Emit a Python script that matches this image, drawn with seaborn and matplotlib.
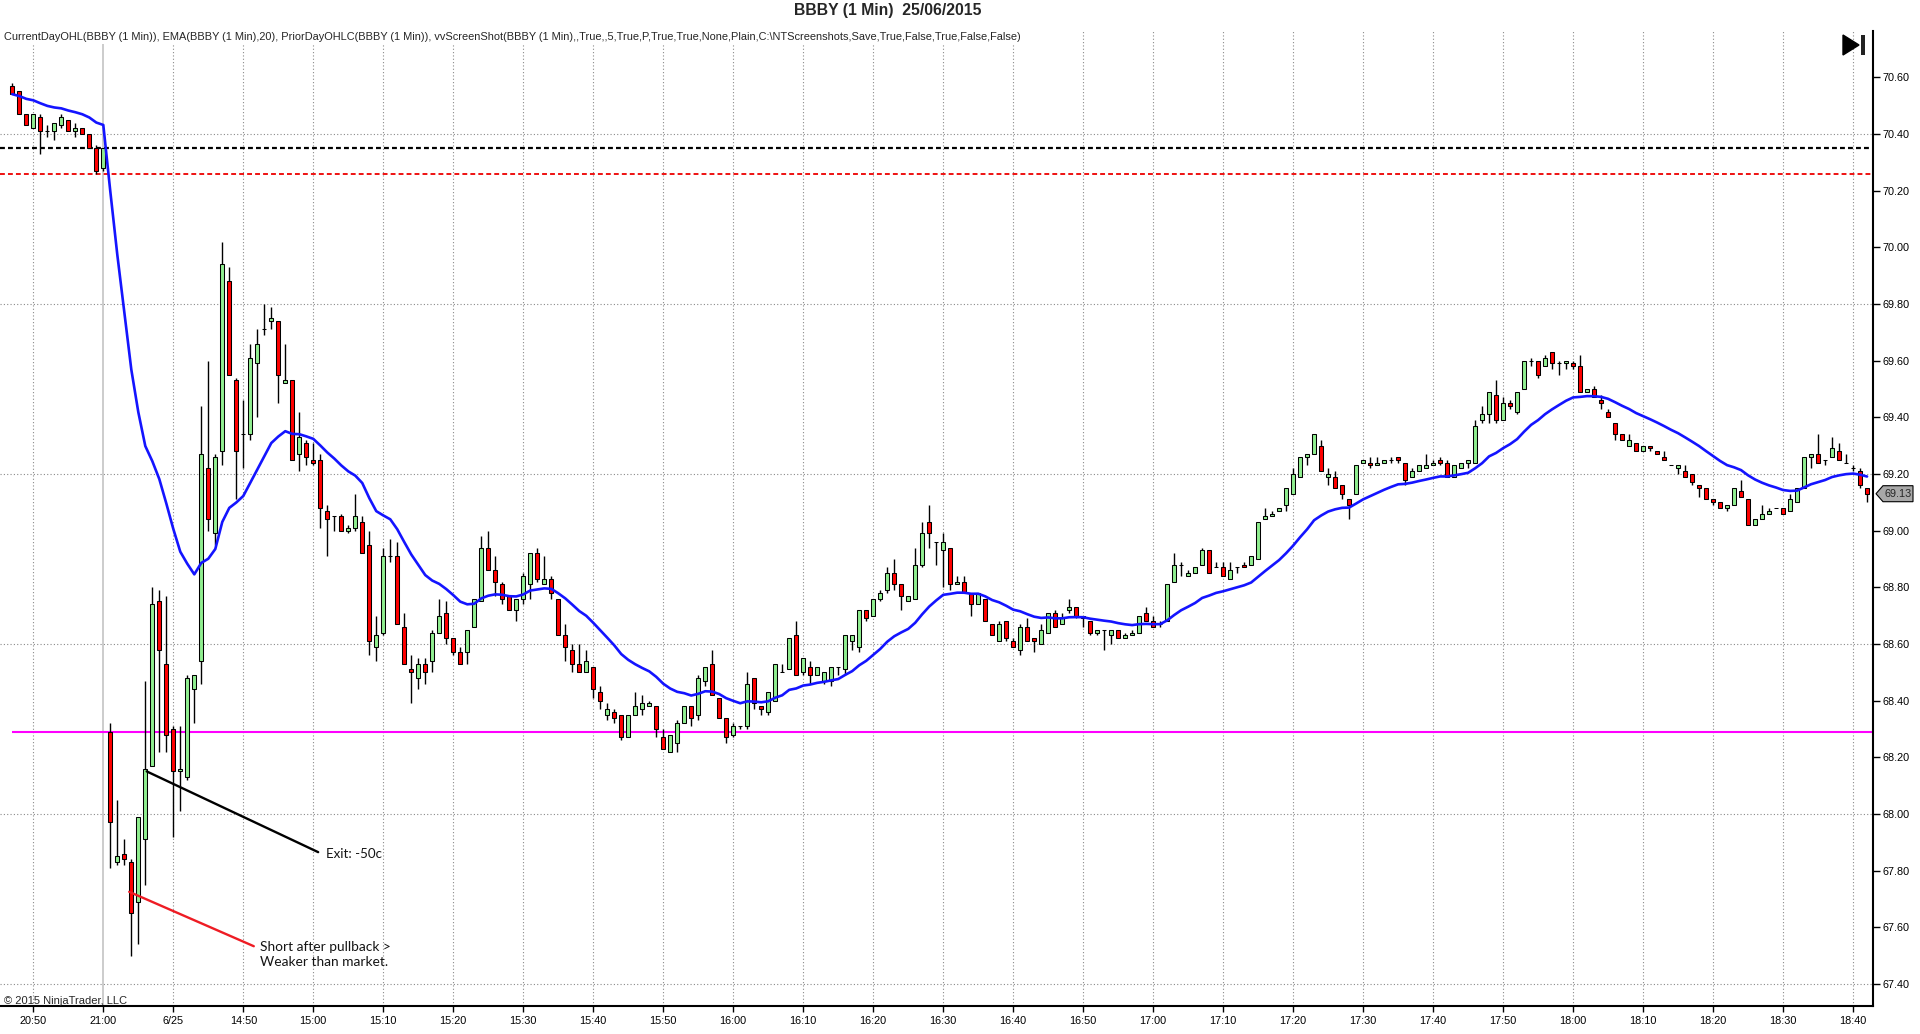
import matplotlib
matplotlib.use("Agg")
import matplotlib.pyplot as plt
from matplotlib.patches import Polygon
from matplotlib.transforms import blended_transform_factory
import numpy as np
import pandas as pd
import seaborn as sns

# 1 minute bars: end of prior session (20:47-21:00) then 25/06 session (14:31-18:42)
bar_times = list(pd.date_range("2015-06-24 20:47", "2015-06-24 21:00", freq="1min")) + \
    list(pd.date_range("2015-06-25 14:31", "2015-06-25 18:42", freq="1min"))

opens = [
    70.57, 70.55, 70.47, 70.42, 70.46, 70.41, 70.41, 70.43, 70.45, 70.41, 70.42, 70.40, 70.35, 70.28,
    68.29, 67.83, 67.86, 67.83, 67.69, 67.91, 68.17, 68.75, 68.53, 68.30,
    68.15, 68.13, 68.44, 68.54, 69.22, 68.99, 69.28, 69.88, 69.53, 69.34,
    69.34, 69.59, 69.71, 69.74, 69.74, 69.52, 69.53, 69.27, 69.31, 69.25,
    69.25, 69.07, 69.05, 69.05, 69.00, 69.01, 69.03, 68.95, 68.59, 68.64,
    68.91, 68.91, 68.66, 68.51, 68.48, 68.53, 68.54, 68.64, 68.71, 68.62,
    68.57, 68.57, 68.66, 68.75, 68.94, 68.86, 68.81, 68.77, 68.72, 68.76,
    68.81, 68.92, 68.81, 68.83, 68.76, 68.63, 68.58, 68.53, 68.50, 68.52,
    68.43, 68.35, 68.36, 68.35, 68.27, 68.35, 68.37, 68.38, 68.38, 68.27,
    68.22, 68.25, 68.32, 68.38, 68.35, 68.47, 68.53, 68.41, 68.34, 68.28,
    68.31, 68.31, 68.48, 68.38, 68.36, 68.40, 68.50, 68.51, 68.63, 68.50,
    68.52, 68.49, 68.47, 68.47, 68.52, 68.51, 68.61, 68.59, 68.72, 68.70,
    68.76, 68.79, 68.85, 68.81, 68.75, 68.76, 68.88, 69.03, 68.96, 68.93,
    68.94, 68.81, 68.82, 68.78, 68.74, 68.76, 68.67, 68.61, 68.68, 68.61,
    68.58, 68.66, 68.62, 68.60, 68.64, 68.71, 68.67, 68.72, 68.73, 68.70,
    68.68, 68.64, 68.65, 68.63, 68.65, 68.62, 68.63, 68.64, 68.71, 68.68,
    68.67, 68.68, 68.82, 68.88, 68.84, 68.85, 68.88, 68.93, 68.87, 68.87,
    68.83, 68.87, 68.88, 68.88, 68.90, 69.04, 69.05, 69.07, 69.09, 69.13,
    69.19, 69.26, 69.27, 69.30, 69.19, 69.19, 69.16, 69.11, 69.13, 69.24,
    69.24, 69.23, 69.24, 69.25, 69.26, 69.24, 69.19, 69.21, 69.22, 69.23,
    69.25, 69.24, 69.19, 69.22, 69.24, 69.24, 69.39, 69.41, 69.48, 69.39,
    69.45, 69.42, 69.50, 69.60, 69.60, 69.58, 69.63, 69.59, 69.59, 69.59,
    69.58, 69.49, 69.50, 69.46, 69.42, 69.38, 69.34, 69.30, 69.31, 69.28,
    69.30, 69.28, 69.26, 69.23, 69.22, 69.21, 69.20, 69.16, 69.15, 69.11,
    69.10, 69.08, 69.09, 69.14, 69.11, 69.02, 69.04, 69.06, 69.08, 69.08,
    69.07, 69.10, 69.15, 69.26, 69.27, 69.25, 69.26, 69.28, 69.24, 69.22,
    69.21, 69.15,
]
highs = [
    70.58, 70.55, 70.47, 70.47, 70.47, 70.43, 70.44, 70.47, 70.45, 70.44, 70.42, 70.40, 70.36, 70.35,
    68.32, 68.05, 67.91, 67.84, 67.99, 68.47, 68.80, 68.79, 68.77, 68.31,
    68.31, 68.49, 68.49, 69.44, 69.60, 69.27, 70.02, 69.93, 69.54, 69.46,
    69.66, 69.71, 69.80, 69.79, 69.74, 69.66, 69.53, 69.42, 69.32, 69.31,
    69.27, 69.09, 69.05, 69.06, 69.02, 69.13, 69.05, 69.00, 68.70, 68.94,
    68.97, 68.96, 68.71, 68.56, 68.55, 68.55, 68.65, 68.76, 68.75, 68.62,
    68.59, 68.65, 68.76, 68.98, 69.00, 68.91, 68.82, 68.77, 68.76, 68.85,
    68.92, 68.94, 68.91, 68.84, 68.76, 68.67, 68.60, 68.60, 68.58, 68.52,
    68.45, 68.39, 68.37, 68.35, 68.35, 68.43, 68.42, 68.40, 68.38, 68.30,
    68.28, 68.33, 68.38, 68.38, 68.49, 68.52, 68.58, 68.41, 68.34, 68.32,
    68.31, 68.50, 68.48, 68.38, 68.43, 68.53, 68.53, 68.62, 68.68, 68.55,
    68.54, 68.52, 68.50, 68.52, 68.52, 68.63, 68.63, 68.72, 68.72, 68.76,
    68.79, 68.87, 68.90, 68.81, 68.77, 68.94, 69.03, 69.09, 68.96, 68.99,
    68.94, 68.84, 68.84, 68.78, 68.78, 68.76, 68.67, 68.68, 68.68, 68.62,
    68.67, 68.69, 68.62, 68.67, 68.71, 68.72, 68.71, 68.76, 68.73, 68.70,
    68.68, 68.65, 68.65, 68.65, 68.65, 68.64, 68.65, 68.70, 68.73, 68.70,
    68.68, 68.81, 68.92, 68.89, 68.86, 68.87, 68.94, 68.93, 68.89, 68.89,
    68.89, 68.87, 68.89, 68.91, 69.03, 69.08, 69.07, 69.08, 69.15, 69.22,
    69.26, 69.27, 69.34, 69.32, 69.22, 69.21, 69.16, 69.11, 69.23, 69.25,
    69.26, 69.26, 69.25, 69.26, 69.26, 69.24, 69.22, 69.23, 69.27, 69.25,
    69.26, 69.25, 69.23, 69.24, 69.25, 69.39, 69.44, 69.49, 69.53, 69.47,
    69.46, 69.49, 69.60, 69.61, 69.60, 69.62, 69.63, 69.60, 69.60, 69.60,
    69.62, 69.50, 69.51, 69.48, 69.43, 69.38, 69.34, 69.34, 69.31, 69.30,
    69.30, 69.28, 69.28, 69.23, 69.23, 69.23, 69.20, 69.16, 69.15, 69.11,
    69.10, 69.09, 69.15, 69.18, 69.11, 69.04, 69.09, 69.08, 69.08, 69.08,
    69.13, 69.15, 69.26, 69.27, 69.34, 69.25, 69.33, 69.31, 69.27, 69.23,
    69.22, 69.15,
]
lows = [
    70.54, 70.47, 70.43, 70.42, 70.33, 70.39, 70.38, 70.42, 70.41, 70.39, 70.40, 70.35, 70.26, 70.27,
    67.81, 67.82, 67.82, 67.50, 67.54, 67.75, 68.17, 68.22, 68.22, 67.92,
    68.01, 68.12, 68.32, 68.46, 69.00, 68.95, 69.23, 69.55, 69.11, 69.22,
    69.32, 69.40, 69.69, 69.71, 69.45, 69.52, 69.25, 69.21, 69.23, 69.23,
    69.01, 68.91, 69.00, 69.00, 68.99, 69.00, 68.92, 68.56, 68.54, 68.63,
    68.89, 68.67, 68.53, 68.39, 68.44, 68.46, 68.50, 68.64, 68.60, 68.56,
    68.53, 68.53, 68.66, 68.75, 68.86, 68.77, 68.74, 68.72, 68.68, 68.74,
    68.76, 68.82, 68.81, 68.76, 68.63, 68.54, 68.50, 68.50, 68.50, 68.41,
    68.37, 68.33, 68.32, 68.26, 68.27, 68.35, 68.35, 68.38, 68.27, 68.23,
    68.22, 68.22, 68.32, 68.31, 68.33, 68.45, 68.42, 68.34, 68.25, 68.27,
    68.30, 68.30, 68.37, 68.35, 68.35, 68.40, 68.50, 68.51, 68.49, 68.49,
    68.46, 68.49, 68.46, 68.45, 68.49, 68.49, 68.58, 68.57, 68.68, 68.70,
    68.75, 68.78, 68.79, 68.72, 68.75, 68.76, 68.87, 68.94, 68.88, 68.80,
    68.79, 68.81, 68.78, 68.70, 68.74, 68.68, 68.63, 68.61, 68.61, 68.59,
    68.56, 68.61, 68.57, 68.60, 68.64, 68.66, 68.67, 68.71, 68.69, 68.66,
    68.63, 68.63, 68.58, 68.60, 68.62, 68.62, 68.63, 68.64, 68.68, 68.66,
    68.66, 68.68, 68.82, 68.84, 68.84, 68.85, 68.88, 68.85, 68.87, 68.84,
    68.83, 68.85, 68.87, 68.88, 68.90, 69.04, 69.05, 69.07, 69.07, 69.13,
    69.19, 69.23, 69.27, 69.21, 69.16, 69.15, 69.11, 69.04, 69.13, 69.24,
    69.22, 69.23, 69.24, 69.24, 69.24, 69.16, 69.19, 69.21, 69.22, 69.23,
    69.23, 69.19, 69.19, 69.22, 69.22, 69.24, 69.38, 69.38, 69.38, 69.39,
    69.43, 69.41, 69.50, 69.58, 69.54, 69.58, 69.57, 69.55, 69.57, 69.57,
    69.49, 69.49, 69.47, 69.43, 69.40, 69.32, 69.32, 69.30, 69.28, 69.28,
    69.28, 69.27, 69.25, 69.23, 69.20, 69.19, 69.16, 69.12, 69.11, 69.09,
    69.08, 69.07, 69.09, 69.12, 69.02, 69.02, 69.04, 69.06, 69.08, 69.06,
    69.07, 69.10, 69.15, 69.22, 69.24, 69.23, 69.26, 69.25, 69.24, 69.21,
    69.15, 69.10,
]
closes = [
    70.54, 70.47, 70.43, 70.47, 70.41, 70.41, 70.44, 70.46, 70.41, 70.42, 70.40, 70.35, 70.27, 70.35,
    67.97, 67.85, 67.84, 67.65, 67.99, 68.16, 68.74, 68.58, 68.28, 68.15,
    68.16, 68.48, 68.49, 69.27, 69.04, 69.26, 69.94, 69.55, 69.28, 69.34,
    69.61, 69.66, 69.71, 69.75, 69.55, 69.53, 69.25, 69.33, 69.26, 69.24,
    69.08, 69.04, 69.05, 69.00, 69.01, 69.05, 68.92, 68.61, 68.63, 68.91,
    68.91, 68.67, 68.53, 68.50, 68.53, 68.50, 68.64, 68.70, 68.62, 68.57,
    68.53, 68.65, 68.76, 68.94, 68.86, 68.82, 68.76, 68.72, 68.76, 68.84,
    68.92, 68.83, 68.83, 68.78, 68.63, 68.59, 68.53, 68.50, 68.54, 68.44,
    68.40, 68.37, 68.34, 68.27, 68.35, 68.38, 68.39, 68.39, 68.30, 68.23,
    68.28, 68.32, 68.38, 68.34, 68.48, 68.52, 68.42, 68.34, 68.27, 68.31,
    68.31, 68.46, 68.39, 68.37, 68.43, 68.53, 68.50, 68.62, 68.49, 68.55,
    68.49, 68.52, 68.50, 68.52, 68.52, 68.63, 68.63, 68.72, 68.69, 68.76,
    68.78, 68.85, 68.81, 68.77, 68.77, 68.88, 68.99, 68.99, 68.96, 68.96,
    68.81, 68.82, 68.78, 68.74, 68.78, 68.68, 68.63, 68.67, 68.62, 68.59,
    68.66, 68.61, 68.61, 68.65, 68.71, 68.66, 68.69, 68.73, 68.70, 68.69,
    68.64, 68.65, 68.65, 68.65, 68.62, 68.63, 68.64, 68.70, 68.68, 68.66,
    68.67, 68.81, 68.88, 68.88, 68.85, 68.87, 68.93, 68.85, 68.87, 68.84,
    68.86, 68.87, 68.87, 68.91, 69.03, 69.05, 69.06, 69.08, 69.15, 69.20,
    69.26, 69.27, 69.34, 69.21, 69.20, 69.15, 69.13, 69.09, 69.23, 69.25,
    69.23, 69.24, 69.25, 69.25, 69.25, 69.18, 69.21, 69.23, 69.23, 69.24,
    69.24, 69.19, 69.23, 69.24, 69.25, 69.37, 69.41, 69.49, 69.39, 69.45,
    69.44, 69.49, 69.60, 69.60, 69.55, 69.61, 69.59, 69.59, 69.60, 69.58,
    69.49, 69.50, 69.47, 69.45, 69.40, 69.34, 69.32, 69.32, 69.28, 69.30,
    69.29, 69.27, 69.25, 69.23, 69.23, 69.19, 69.17, 69.15, 69.11, 69.10,
    69.08, 69.09, 69.15, 69.12, 69.02, 69.04, 69.06, 69.07, 69.08, 69.06,
    69.11, 69.15, 69.26, 69.27, 69.24, 69.25, 69.29, 69.25, 69.24, 69.22,
    69.16, 69.13,
]

prior_close = 70.35
prior_low = 70.26
day_open = 68.29

price_ticks = [67.40, 67.60, 67.80, 68.00, 68.20, 68.40, 68.60, 68.80, 69.00,
               69.20, 69.40, 69.60, 69.80, 70.00, 70.20, 70.40, 70.60]
grid_prices = [67.40, 68.00, 68.60, 69.20, 69.80, 70.40]

# hand drawn trade notes (bar index, price)
exit_line_x, exit_line_y = [19.2, 43.7], [68.15, 67.865]
short_line_x, short_line_y = [16.7, 34.5], [67.725, 67.533]

df = pd.DataFrame({"time": bar_times, "open": opens, "high": highs,
                   "low": lows, "close": closes})
df["idx"] = np.arange(len(df))
df["ema"] = df["close"].ewm(span=20, adjust=False).mean()
up = df["close"] >= df["open"]

sns.set_style("white")
plt.rcParams["font.family"] = ["Liberation Sans", "DejaVu Sans"]

W, H = 1920, 1034
fig = plt.figure(figsize=(W / 100, H / 100), dpi=100)
ax_left, ax_right, ax_top, ax_bottom = 0, 1873, 31, 1006
ax = fig.add_axes([ax_left / W, 1 - ax_bottom / H, (ax_right - ax_left) / W, (ax_bottom - ax_top) / H])

x_lo, x_hi = -1.76, 265.85
y_lo, y_hi = 67.322, 70.763
ax.set_xlim(x_lo, x_hi)
ax.set_ylim(y_lo, y_hi)

# grid
dot = (0, (1, 2))
for p in grid_prices:
    ax.axhline(p, color="#8a8a8a", lw=0.8, ls=dot, zorder=0)

tick_pos = df.index[df["time"].dt.minute % 10 == 0].tolist()
tick_lbl = []
for t in df.loc[tick_pos, "time"]:
    if t.hour == 14 and t.minute == 40:
        tick_lbl.append(f"{t.month}/{t.day}")
    else:
        tick_lbl.append(t.strftime("%H:%M"))
for pos, t in zip(tick_pos, df.loc[tick_pos, "time"]):
    if t.hour == 21:
        ax.axvline(pos, color="#c4c4c4", lw=1.2, zorder=0)
    else:
        ax.axvline(pos, color="#8a8a8a", lw=0.8, ls=dot, zorder=0)

# reference lines
ax.axhline(prior_close, color="black", lw=1.6, ls=(0, (2.2, 1.4)), zorder=1)
ax.axhline(prior_low, color="#ee1111", lw=1.4, ls=(0, (2.5, 1.6)), zorder=1)
ax.hlines(day_open, df["idx"].iloc[0], x_hi, color="#ff00ff", lw=1.5, zorder=1)

# candles
ax.vlines(df["idx"], df["low"], df["high"], color="black", lw=1.0, zorder=2)
body_lo = np.minimum(df["open"], df["close"])
body_h = (df["close"] - df["open"]).abs()
ax.bar(df["idx"], body_h, bottom=body_lo, width=0.6,
       color=np.where(up, "#90ee90", "#ff0000"), edgecolor="black", linewidth=0.75, zorder=3)

sns.lineplot(x=df["idx"], y=df["ema"], ax=ax, color="#1414ff", lw=1.9, zorder=4)

# trade notes
ax.plot(exit_line_x, exit_line_y, color="black", lw=1.7, zorder=5)
ax.plot(short_line_x, short_line_y, color="#ee1c24", lw=1.7, zorder=5)
note_font = ["Lato", "DejaVu Sans"]
ax.text(44.8, 67.86, "Exit: -50c", fontsize=9.6, family=note_font, color="#151515",
        va="center", ha="left", zorder=6)
ax.text(35.4, 67.502, "Short after pullback >\nWeaker than market.", fontsize=9.9,
        family=note_font, color="#151515", va="center", ha="left", linespacing=1.3, zorder=6)

# axes look
for s in ["left", "top"]:
    ax.spines[s].set_visible(False)
for s in ["right", "bottom"]:
    ax.spines[s].set_visible(True)
    ax.spines[s].set_color("black")
    ax.spines[s].set_linewidth(1.5)
ax.yaxis.tick_right()
ax.set_yticks(price_ticks)
ax.set_yticklabels([f"{p:.2f}" for p in price_ticks])
ax.set_xticks(tick_pos)
ax.set_xticklabels(tick_lbl)
ax.tick_params(axis="y", which="both", right=True, left=False, direction="out",
               length=5, width=1, pad=1.5, labelsize=7.8, colors="black")
ax.tick_params(axis="x", which="both", bottom=True, direction="out",
               length=4, width=1, pad=3, labelsize=7.8, colors="black")
ax.set_xlabel("")
ax.set_ylabel("")
ax.grid(False)

# last price marker
last = df["close"].iloc[-1]
tr = blended_transform_factory(ax.transAxes, ax.transData)
px = 1 / (ax_right - ax_left)
hh = 8 / ((ax_bottom - ax_top) / (y_hi - y_lo))
box = Polygon([(1 + 3 * px, last), (1 + 10 * px, last + hh), (1 + 40 * px, last + hh),
               (1 + 40 * px, last - hh), (1 + 10 * px, last - hh)], closed=True,
              transform=tr, facecolor="#a8a8a8", edgecolor="black", lw=0.8, clip_on=False, zorder=7)
ax.add_patch(box)
ax.text(1 + 25 * px, last, f"{last:.2f}", transform=tr, fontsize=7.8,
        ha="center", va="center", clip_on=False, zorder=8)

# header texts
fig.text(888 / W, 1 - 10 / H, "BBBY (1 Min)  25/06/2015", ha="center", va="center",
         fontsize=11.3, weight="bold")
info = ("CurrentDayOHL(BBBY (1 Min)), EMA(BBBY (1 Min),20), PriorDayOHLC(BBBY (1 Min)), "
        "vvScreenShot(BBBY (1 Min),,True,,5,True,P,True,True,None,Plain,C:\\NTScreenshots,"
        "Save,True,False,True,False,False)")
fig.text(4 / W, 1 - 37 / H, info, ha="left", va="center", fontsize=7.95,
         bbox=dict(facecolor="white", edgecolor="none", pad=1.5))
fig.text(4 / W, 1 - 1001 / H, "\u00a9 2015 NinjaTrader, LLC", ha="left", va="center", fontsize=8.0)

# "go to end" icon
tri = Polygon([(1843 / W, 1 - 35 / H), (1843 / W, 1 - 55 / H), (1859 / W, 1 - 45 / H)],
              closed=True, transform=fig.transFigure, facecolor="black", edgecolor="black")
bar_icon = Polygon([(1861 / W, 1 - 35 / H), (1865 / W, 1 - 35 / H), (1865 / W, 1 - 55 / H),
                    (1861 / W, 1 - 55 / H)], closed=True, transform=fig.transFigure,
                   facecolor="#222222", edgecolor="none")
fig.patches.extend([tri, bar_icon])

fig.savefig("out.png", dpi=100)
